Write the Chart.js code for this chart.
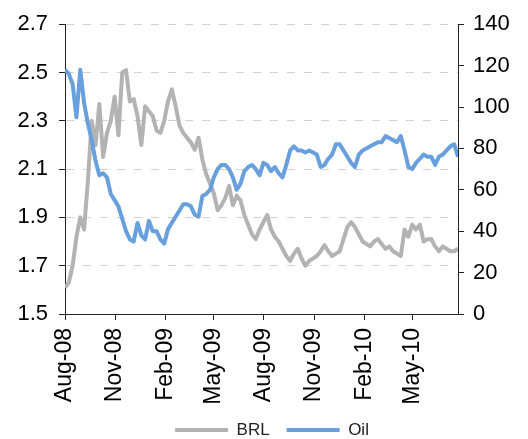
<!DOCTYPE html>
<html>
<head>
<meta charset="utf-8">
<script src="https://cdn.jsdelivr.net/npm/chart.js@4.4.1/dist/chart.umd.min.js"></script>
<style>
html,body{margin:0;padding:0;background:#fff;}
canvas{display:block;}
</style>
</head>
<body>
<canvas id="c" width="528" height="439" style="width:528px;height:439px"></canvas>
<script>
// Days since 1 Aug 2008 (weekly samples)
const dayOffsets = [0,7,14,21,28,35,42,49,56,63,70,77,84,91,98,105,112,119,126,133,140,147,154,161,168,175,182,189,196,203,210,217,224,231,238,245,252,259,266,273,280,287,294,301,308,315,322,329,336,343,350,357,364,371,378,385,392,399,406,413,420,427,434,441,448,455,462,469,476,483,490,497,504,511,518,525,532,539,546,553,560,567,574,581,588,595,602,609,616,623,630,637,644,651,658,665,672,679,686,693,700,707,714,721];

// BRL (left axis)
const brlValues = [1.61,1.63,1.70,1.82,1.90,1.85,2.05,2.30,2.20,2.37,2.15,2.25,2.30,2.40,2.24,2.50,2.51,2.38,2.39,2.32,2.20,2.36,2.34,2.32,2.26,2.25,2.30,2.38,2.43,2.36,2.28,2.25,2.23,2.21,2.18,2.23,
2.14,2.08,2.04,2.00,1.93,1.95,1.98,2.03,1.95,1.99,1.97,1.91,1.87,1.83,1.81,1.85,1.88,1.91,1.85,1.82,1.80,1.77,1.74,1.72,1.75,1.77,1.73,1.70,1.72,1.73,1.74,1.76,1.785,1.76,1.74,1.75,1.76,1.81,1.86,1.88,1.86,1.83,1.80,1.79,1.78,1.80,1.81,1.79,1.77,1.78,1.76,1.75,1.74,1.85,1.82,1.87,1.85,1.87,1.80,1.81,1.81,1.78,1.76,1.78,1.77,1.76,1.76,1.77];

// Oil (right axis)
const oilValues = [118,116,111,95,118,102,92,84,74,67,68,66,58,55,52,46,40,36,35,44,38,36,45,40,40,36,34,41,44,47,50,53,53,52,48,47,
57,58,60,66,70,72,72,70,66,60,63,69,71,72,70,67,73,72,69,71,68,66,72,79,81,79,79,78,79,78,77,71,72,75,77,82,82,79,76,73,71,77,79,80,81,82,83,83,86,85,84,83,86,79,71,70,73,75,77,76,76,72,76,77,79,81,82,76];

const monthTickDays = [0,92,184,273,365,457,549,638];
const monthTickLabels = ['Aug-08','Nov-08','Feb-09','May-09','Aug-09','Nov-09','Feb-10','May-10'];
const brlTicks = [1.5,1.7,1.9,2.1,2.3,2.5,2.7];
const oilTicks = [0,20,40,60,80,100,120,140];

const FONT = "Arial, 'Liberation Sans', sans-serif";
const AXIS = '#222222';

const toPoints = (vals) => vals.map((v, i) => ({x: dayOffsets[i], y: v}));

new Chart(document.getElementById('c'), {
  type: 'line',
  data: {
    datasets: [
      { label: 'BRL', data: toPoints(brlValues), yAxisID: 'yL', borderColor: '#b3b3b3', backgroundColor: '#b3b3b3', borderWidth: 4, pointRadius: 0, tension: 0, borderJoinStyle: 'round', order: 1 },
      { label: 'Oil', data: toPoints(oilValues), yAxisID: 'yR', borderColor: '#68a0de', backgroundColor: '#68a0de', borderWidth: 4, pointRadius: 0, tension: 0, borderJoinStyle: 'round', order: 0 }
    ]
  },
  options: {
    responsive: false,
    animation: false,
    events: [],
    layout: { padding: { top: 17, bottom: 0, left: 16, right: 0 } },
    plugins: {
      tooltip: { enabled: false },
      legend: {
        position: 'bottom',
        maxHeight: 34.5,
        labels: {
          boxWidth: 53,
          boxHeight: 4,
          padding: 17,
          color: '#222',
          font: { family: FONT, size: 17 },
          sort: (a, b) => a.datasetIndex - b.datasetIndex,
          generateLabels: (chart) => Chart.defaults.plugins.legend.labels.generateLabels(chart).map(l => Object.assign(l, { lineWidth: 0 }))
        }
      }
    },
    scales: {
      x: {
        type: 'linear', position: 'bottom', min: 0, max: 721,
        afterBuildTicks: (s) => { s.ticks = monthTickDays.map(v => ({ value: v })); },
        afterFit: (s) => { s.height = 90.5; },
        ticks: { autoSkip: false, minRotation: 90, maxRotation: 90, padding: 8, color: '#000', font: { family: FONT, size: 23 }, callback: (v, i) => monthTickLabels[i] },
        grid: { drawOnChartArea: false, drawTicks: true, tickLength: 6, tickColor: AXIS },
        border: { color: AXIS, width: 1 }
      },
      yL: {
        type: 'linear', position: 'left', min: 1.5, max: 2.7,
        afterBuildTicks: (s) => { s.ticks = brlTicks.map(v => ({ value: v })); },
        afterFit: (s) => { s.width = 49; },
        ticks: { padding: 11, color: '#000', font: { family: FONT, size: 22 }, callback: (v) => Number(v).toFixed(1) },
        grid: { color: (ctx) => (ctx.tick && ctx.tick.value === 1.5) ? 'rgba(0,0,0,0)' : '#d2d2d2', tickLength: 6, tickColor: AXIS, lineWidth: 1 },
        border: { color: AXIS, width: 1, dash: [8, 9] }
      },
      yR: {
        type: 'linear', position: 'right', min: 0, max: 140,
        afterBuildTicks: (s) => { s.ticks = oilTicks.map(v => ({ value: v })); },
        afterFit: (s) => { s.width = 70; },
        ticks: { padding: 9, color: '#000', font: { family: FONT, size: 22 }, callback: (v) => String(v) },
        grid: { drawOnChartArea: false, tickLength: 6, tickColor: AXIS },
        border: { color: AXIS, width: 1 }
      }
    }
  }
});
</script>
</body>
</html>
